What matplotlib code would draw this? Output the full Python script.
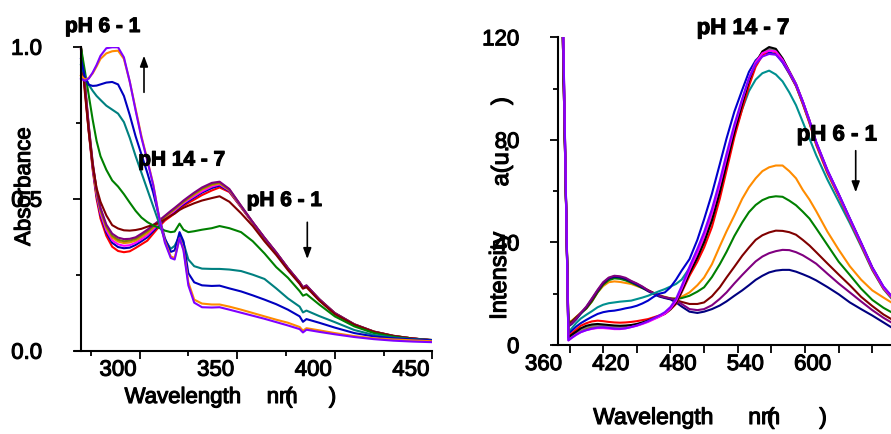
import matplotlib
matplotlib.use('Agg')
import matplotlib.pyplot as plt
import matplotlib.patheffects as pe
from matplotlib.transforms import ScaledTranslation

# ---- absorbance spectra (left) ----
abs_nm = [270, 272, 274, 276, 278, 280, 283, 286, 289, 292, 295, 298, 301, 304, 307,
          310, 313, 316, 318, 320.5, 322.5, 325, 328, 332, 337, 341, 346, 352, 358, 364,
          370, 376, 382, 383.7, 385.5, 392, 400, 410, 420, 430, 440, 450]

# pH 14 - 7
abs_red = [0.990, 0.860, 0.720, 0.595, 0.500, 0.435, 0.378, 0.342, 0.328, 0.324, 0.327, 0.338, 0.350, 0.362, 0.385,
           0.408, 0.428, 0.442, 0.452, 0.467, 0.476, 0.486, 0.497, 0.512, 0.527, 0.537, 0.522, 0.472, 0.420, 0.369,
           0.321, 0.270, 0.223, 0.206, 0.212, 0.168, 0.122, 0.085, 0.062, 0.048, 0.040, 0.034]
abs_blue = [0.993, 0.866, 0.726, 0.603, 0.509, 0.446, 0.389, 0.355, 0.341, 0.337, 0.339, 0.348, 0.360, 0.373, 0.393,
            0.414, 0.433, 0.447, 0.457, 0.472, 0.481, 0.492, 0.504, 0.520, 0.535, 0.543, 0.525, 0.473, 0.421, 0.370,
            0.322, 0.271, 0.224, 0.207, 0.213, 0.168, 0.123, 0.086, 0.062, 0.048, 0.040, 0.034]
abs_mag = [0.995, 0.870, 0.730, 0.608, 0.515, 0.452, 0.396, 0.363, 0.350, 0.345, 0.347, 0.355, 0.367, 0.380, 0.399,
           0.418, 0.436, 0.451, 0.461, 0.475, 0.485, 0.496, 0.508, 0.524, 0.540, 0.547, 0.527, 0.474, 0.421, 0.370,
           0.322, 0.271, 0.224, 0.207, 0.213, 0.169, 0.123, 0.086, 0.062, 0.048, 0.040, 0.034]
abs_gold = [0.997, 0.874, 0.734, 0.613, 0.521, 0.460, 0.404, 0.372, 0.359, 0.354, 0.356, 0.362, 0.374, 0.387, 0.405,
            0.422, 0.439, 0.455, 0.465, 0.478, 0.489, 0.500, 0.513, 0.530, 0.545, 0.550, 0.529, 0.475, 0.422, 0.371,
            0.323, 0.271, 0.225, 0.208, 0.214, 0.169, 0.123, 0.086, 0.063, 0.049, 0.040, 0.035]
abs_olive = [0.998, 0.877, 0.737, 0.616, 0.525, 0.465, 0.409, 0.378, 0.365, 0.360, 0.362, 0.368, 0.380, 0.393, 0.409,
             0.425, 0.442, 0.457, 0.467, 0.481, 0.491, 0.503, 0.517, 0.533, 0.548, 0.553, 0.530, 0.476, 0.422, 0.371,
             0.323, 0.272, 0.225, 0.208, 0.214, 0.170, 0.124, 0.087, 0.063, 0.049, 0.040, 0.035]
abs_purple = [0.999, 0.880, 0.740, 0.620, 0.530, 0.470, 0.415, 0.385, 0.372, 0.367, 0.368, 0.373, 0.385, 0.398, 0.413,
              0.428, 0.444, 0.460, 0.470, 0.483, 0.494, 0.506, 0.520, 0.537, 0.552, 0.556, 0.532, 0.477, 0.423, 0.372,
              0.324, 0.272, 0.226, 0.209, 0.215, 0.170, 0.124, 0.087, 0.063, 0.049, 0.040, 0.035]

# pH 6 - 1
abs_ph6 = [0.998, 0.850, 0.720, 0.610, 0.535, 0.490, 0.445, 0.413, 0.402, 0.396, 0.395, 0.397, 0.401, 0.408, 0.414,
           0.420, 0.432, 0.444, 0.451, 0.463, 0.470, 0.477, 0.485, 0.494, 0.502, 0.508, 0.490, 0.452, 0.410, 0.360,
           0.315, 0.265, 0.220, 0.204, 0.209, 0.165, 0.120, 0.085, 0.062, 0.048, 0.040, 0.034]
abs_ph5 = [0.998, 0.920, 0.840, 0.760, 0.690, 0.640, 0.595, 0.560, 0.540, 0.515, 0.487, 0.460, 0.438, 0.423, 0.412,
           0.404, 0.395, 0.390, 0.392, 0.418, 0.398, 0.390, 0.393, 0.398, 0.403, 0.410, 0.403, 0.390, 0.360, 0.320,
           0.275, 0.240, 0.196, 0.181, 0.186, 0.152, 0.113, 0.080, 0.058, 0.046, 0.038, 0.033]
abs_ph4 = [0.940, 0.905, 0.875, 0.855, 0.838, 0.825, 0.806, 0.793, 0.780, 0.752, 0.700, 0.640, 0.585, 0.530, 0.475,
           0.420, 0.365, 0.335, 0.345, 0.378, 0.355, 0.300, 0.278, 0.270, 0.269, 0.269, 0.267, 0.262, 0.250, 0.236,
           0.205, 0.172, 0.145, 0.126, 0.132, 0.114, 0.094, 0.068, 0.052, 0.043, 0.038, 0.035]
abs_ph3 = [0.960, 0.900, 0.875, 0.871, 0.872, 0.876, 0.882, 0.884, 0.876, 0.838, 0.775, 0.705, 0.645, 0.585, 0.520,
           0.440, 0.370, 0.325, 0.330, 0.390, 0.360, 0.255, 0.225, 0.215, 0.213, 0.214, 0.205, 0.195, 0.182, 0.168,
           0.153, 0.135, 0.113, 0.095, 0.104, 0.092, 0.076, 0.058, 0.047, 0.041, 0.037, 0.034]
abs_ph2 = [0.905, 0.892, 0.897, 0.912, 0.935, 0.960, 0.978, 0.985, 0.987, 0.960, 0.885, 0.795, 0.705, 0.628, 0.548,
           0.440, 0.360, 0.310, 0.305, 0.370, 0.335, 0.225, 0.168, 0.155, 0.152, 0.152, 0.145, 0.135, 0.124, 0.113,
           0.102, 0.092, 0.078, 0.066, 0.074, 0.067, 0.058, 0.048, 0.041, 0.037, 0.034, 0.031]
abs_ph1 = [0.895, 0.888, 0.895, 0.915, 0.940, 0.970, 0.995, 0.998, 0.998, 0.965, 0.885, 0.790, 0.700, 0.625, 0.545,
           0.440, 0.355, 0.305, 0.300, 0.370, 0.330, 0.215, 0.158, 0.143, 0.142, 0.143, 0.135, 0.125, 0.115, 0.105,
           0.094, 0.083, 0.071, 0.060, 0.069, 0.062, 0.054, 0.045, 0.038, 0.033, 0.030, 0.028]

# ---- fluorescence spectra (right) ----
fl_nm = [350, 354, 359, 362, 366, 370, 375, 380, 385, 390, 395, 400, 405, 410, 415, 420, 425, 430, 435, 440,
         445, 450, 455, 460, 467, 474, 480, 487, 494, 500, 507, 514, 520, 526, 532, 538, 544, 550, 556, 562,
         568, 574, 580, 590, 600, 610, 620, 630, 640, 647]

# pH 14 - 7
fl_black = [165, 128, 3.0, 4.0, 5.2, 6.5, 7.5, 8.0, 8.2, 8.0, 7.8, 7.6, 7.5, 7.6, 7.8, 8.2, 8.8, 9.5, 10.4, 11.3,
            12.3, 14.0, 16.5, 21.0, 28.0, 34.0, 40.0, 48.5, 59.5, 70.5, 83.0, 94.0, 103.0, 110.0, 114.5, 116.2, 115.5, 111.8, 106.8, 101.8,
            95.0, 87.5, 79.0, 68.0, 58.8, 49.2, 39.8, 30.2, 22.6, 19.0]
fl_gray = [170, 130, 2.5, 3.5, 4.8, 6.0, 7.0, 7.5, 7.6, 7.4, 7.2, 7.0, 7.0, 7.2, 7.5, 8.0, 8.6, 9.4, 10.3, 11.2,
           12.2, 14.0, 16.6, 21.2, 28.3, 34.5, 40.8, 49.5, 60.5, 71.5, 84.0, 94.8, 103.5, 110.2, 114.3, 115.6, 115.0, 111.4, 106.5, 101.5,
           94.7, 87.2, 78.7, 67.8, 58.6, 49.0, 39.6, 30.0, 22.4, 18.8]
fl_olive = [170, 130, 2.2, 3.2, 4.5, 5.6, 6.4, 6.9, 7.0, 6.9, 6.7, 6.6, 6.6, 6.8, 7.2, 7.7, 8.4, 9.2, 10.2, 11.1,
            12.2, 14.0, 16.8, 21.5, 28.6, 35.0, 41.3, 50.0, 61.0, 72.0, 84.3, 95.0, 103.6, 110.0, 114.0, 115.2, 114.6, 111.0, 106.2, 101.3,
            94.5, 87.0, 78.6, 67.7, 58.5, 48.9, 39.5, 29.9, 22.3, 18.7]
fl_red = [160, 125, 3.6, 4.5, 6.0, 7.5, 8.5, 9.2, 9.5, 9.3, 9.0, 8.8, 8.7, 8.8, 9.0, 9.3, 9.7, 10.1, 10.8, 11.5,
          12.1, 13.8, 16.0, 20.5, 27.0, 32.5, 38.0, 46.0, 57.0, 68.0, 81.0, 92.0, 101.0, 108.5, 113.0, 115.0, 114.2, 110.8, 106.0, 101.0,
          94.0, 86.5, 78.0, 67.0, 58.0, 48.5, 39.0, 29.5, 22.0, 18.5]
fl_magenta = [175, 132, 1.8, 2.8, 4.0, 5.0, 5.8, 6.3, 6.6, 6.6, 6.4, 6.2, 6.2, 6.5, 7.0, 7.5, 8.2, 9.0, 10.0, 11.0,
              12.2, 14.2, 17.2, 22.0, 29.3, 36.0, 42.5, 51.5, 62.5, 73.0, 85.0, 95.5, 104.0, 110.2, 113.8, 114.8, 114.5, 111.2, 106.6, 101.7,
              95.0, 87.5, 79.0, 68.0, 58.7, 49.0, 39.6, 30.0, 22.4, 18.9]
fl_violet = [175, 132, 1.8, 2.8, 4.0, 5.0, 5.8, 6.4, 6.8, 6.9, 6.7, 6.4, 6.3, 6.5, 7.0, 7.6, 8.4, 9.3, 10.4, 11.5,
             12.8, 14.8, 18.0, 23.0, 30.5, 37.5, 44.0, 53.0, 64.0, 74.5, 86.0, 96.0, 104.0, 109.5, 112.5, 113.5, 113.2, 110.5, 106.3, 101.5,
             95.0, 87.6, 79.2, 68.3, 59.0, 49.4, 40.0, 30.3, 22.8, 19.2]
fl_blue = [165, 128, 4.2, 5.5, 7.2, 8.5, 9.8, 11.0, 12.1, 12.8, 13.2, 13.4, 13.8, 14.3, 14.7, 15.3, 16.2, 17.3, 18.8, 20.0,
           20.5, 22.5, 25.5, 29.0, 33.5, 41.0, 49.0, 59.0, 70.5, 80.5, 91.0, 99.5, 106.5, 111.0, 113.5, 114.0, 113.5, 110.2, 105.8, 101.0,
           94.3, 87.0, 78.6, 67.8, 58.6, 49.0, 39.6, 30.0, 22.4, 18.8]
fl_teal = [160, 125, 4.9, 6.5, 8.6, 10.3, 11.8, 13.2, 14.7, 15.7, 16.3, 16.6, 16.9, 17.1, 17.3, 17.9, 18.5, 19.2, 20.1, 21.0,
           21.8, 22.8, 23.8, 25.5, 30.0, 36.5, 43.0, 52.0, 62.5, 72.0, 82.5, 92.0, 99.0, 103.5, 106.0, 107.0, 105.5, 102.8, 98.5, 93.5,
           87.0, 80.5, 74.0, 64.5, 56.0, 47.5, 38.5, 29.2, 21.8, 18.2]

# pH 6 - 1
fl_orange = [150, 120, 9.0, 9.5, 11.0, 12.5, 14.3, 17.0, 20.5, 23.0, 24.5, 24.8, 24.6, 24.2, 23.8, 23.0, 22.2, 21.2, 20.3, 19.4,
             18.8, 18.2, 18.2, 18.8, 20.5, 23.3, 26.3, 31.5, 38.5, 44.3, 50.5, 57.0, 61.5, 65.0, 67.8, 69.3, 70.0, 70.0, 67.8, 65.0,
             60.5, 56.7, 52.2, 44.2, 37.2, 30.7, 25.5, 21.3, 18.5, 16.6]
fl_green = [150, 120, 8.5, 9.2, 10.8, 12.3, 14.2, 17.0, 20.5, 23.5, 25.3, 26.0, 25.8, 25.2, 24.3, 23.3, 22.2, 21.2, 20.2, 19.3,
            18.6, 18.1, 18.0, 18.3, 19.2, 20.8, 22.5, 26.5, 31.5, 36.3, 42.5, 47.8, 51.8, 54.6, 56.5, 57.6, 58.0, 57.8, 56.3, 54.5,
            52.0, 49.3, 45.5, 39.0, 32.5, 27.3, 22.0, 17.6, 14.5, 12.8]
fl_maroon = [150, 120, 8.0, 9.0, 10.8, 12.5, 14.5, 17.5, 21.0, 24.0, 26.0, 26.8, 26.5, 25.8, 24.8, 23.8, 22.6, 21.4, 20.3, 19.2,
             18.5, 18.0, 17.5, 16.8, 16.0, 16.0, 16.6, 19.0, 22.5, 26.3, 30.5, 34.8, 38.0, 41.0, 42.8, 43.9, 44.6, 44.5, 44.0, 43.0,
             41.0, 38.8, 36.2, 31.8, 27.5, 23.3, 18.8, 15.2, 11.9, 10.1]
fl_purple = [150, 120, 7.5, 8.5, 10.3, 12.5, 15.0, 18.2, 21.5, 24.5, 26.3, 27.0, 26.8, 26.2, 25.0, 24.0, 22.8, 21.3, 20.2, 19.2,
             18.6, 18.2, 17.3, 16.0, 14.0, 13.6, 14.0, 15.5, 18.0, 20.5, 24.0, 27.3, 30.0, 32.6, 34.5, 35.8, 36.6, 37.1, 37.0, 36.2,
             35.0, 33.4, 31.7, 27.8, 24.0, 20.5, 17.0, 13.6, 10.6, 8.8]
fl_navy = [150, 120, 7.2, 8.2, 10.0, 12.2, 14.8, 18.0, 21.2, 24.2, 26.0, 26.6, 26.4, 25.8, 24.7, 23.6, 22.4, 21.0, 19.9, 18.9,
           18.3, 17.8, 16.6, 15.0, 13.0, 12.5, 13.0, 14.0, 15.4, 17.0, 19.2, 21.3, 23.3, 25.4, 27.0, 28.3, 29.0, 29.3, 29.3, 28.6,
           27.6, 26.5, 25.2, 22.6, 19.8, 16.6, 14.0, 11.5, 8.8, 6.9]

abs_ticks = [300, 350, 400, 450]
abs_minor = [275, 325, 375, 425]
fl_ticks = [360, 390, 420, 450, 480, 510, 540, 570, 600, 630]
fl_labels = ['360', '', '420', '', '480', '', '540', '', '600', '']

plt.rcParams['font.family'] = ['Liberation Sans', 'DejaVu Sans']
W, H = 891, 435
fig = plt.figure(figsize=(W / 100, H / 100), dpi=100)

# slightly heavier strokes on the lettering
heavy = [pe.withStroke(linewidth=0.8, foreground='black')]


def fig_text(x, y, s, **kw):
    # x, y in pixels from the top-left corner
    fig.text(x / W, 1 - y / H, s, path_effects=heavy, **kw)


def down_arrow(ax, x, y_tail, y_tip):
    ax.annotate('', xy=(x, H - y_tip), xytext=(x, H - y_tail),
                xycoords='figure pixels', textcoords='figure pixels',
                annotation_clip=False,
                arrowprops=dict(arrowstyle='-|>,head_length=0.8,head_width=0.3',
                                mutation_scale=8, lw=1.2, color='black',
                                shrinkA=0, shrinkB=0))


def style_axis(ax, x_shift):
    for side in ['top', 'right']:
        ax.spines[side].set_visible(False)
    for side in ['left', 'bottom']:
        ax.spines[side].set_linewidth(1.5)
    ax.tick_params(which='major', length=6, width=1.3, labelsize=16, direction='out')
    ax.tick_params(which='minor', length=3.5, width=1.3, direction='out')
    ax.tick_params(axis='y', which='major', pad=22)
    ax.tick_params(axis='x', which='major', pad=0.5)
    # tick numbers sit to the left of their ticks
    off = ScaledTranslation(x_shift / 100, 0, fig.dpi_scale_trans)
    for lab in ax.get_xticklabels():
        lab.set_transform(lab.get_transform() + off)
        lab.set_path_effects(heavy)
    for lab in ax.get_yticklabels():
        lab.set_path_effects(heavy)


# left panel: absorbance
ax1 = fig.add_axes([75.1 / W, 1 - 351.7 / H, (432.4 - 75.1) / W, (351.7 - 47.7) / H])
lw = 1.5
for y, c in [(abs_red, '#ff0000'), (abs_blue, '#0000b0'), (abs_mag, '#ff00ff'),
             (abs_gold, '#e09000'), (abs_olive, '#808000'), (abs_purple, '#800080')]:
    ax1.plot(abs_nm, y, color=c, lw=lw)
for y, c in [(abs_ph6, '#800000'), (abs_ph5, '#008000'), (abs_ph4, '#008080'),
             (abs_ph3, '#0000c0'), (abs_ph2, '#ff8c00'), (abs_ph1, '#8000ff')]:
    ax1.plot(abs_nm, y, color=c, lw=lw)
ax1.set_xlim(267, 450)
ax1.set_ylim(0, 1.0)
ax1.spines['left'].set_position(('data', 270))
ax1.set_xticks(abs_ticks)
ax1.set_xticks(abs_minor, minor=True)
ax1.set_yticks([0, 0.5, 1.0])
ax1.set_yticklabels(['0.0', '0.5', '1.0'])
ax1.set_yticks([0.25, 0.75], minor=True)
style_axis(ax1, -21.5)

# right panel: emission
ax2 = fig.add_axes([552.7 / W, 1 - 346 / H, (891 - 552.7) / W, (346 - 38.3) / H])
for y, c in [(fl_orange, '#ff8c00'), (fl_green, '#008000'), (fl_maroon, '#800000'),
             (fl_navy, '#000080'), (fl_purple, '#800080')]:
    ax2.plot(fl_nm, y, color=c, lw=lw)
for y, c in [(fl_teal, '#009090'), (fl_blue, '#0000cd'), (fl_red, '#ff0000'), (fl_olive, '#808000'),
             (fl_gray, '#808080'), (fl_black, '#000000'), (fl_magenta, '#ff00ff'), (fl_violet, '#8000ff')]:
    ax2.plot(fl_nm, y, color=c, lw=lw)
ax2.set_xlim(345, 646.7)
ax2.set_ylim(0, 120)
ax2.spines['left'].set_position(('data', 350))
ax2.set_xticks(fl_ticks)
ax2.set_xticklabels(fl_labels)
ax2.set_yticks([0, 40, 80, 120])
ax2.set_yticks([20, 60, 100], minor=True)
style_axis(ax2, -26)

# axis titles
fig_text(30, 187.5, 'Absorbance', fontsize=16, rotation=90, rotation_mode='anchor',
         ha='center', va='baseline')
fig_text(183, 404, 'Wavelength', fontsize=16, ha='center', va='baseline')
fig_text(266.7, 404, 'nm', fontsize=16, ha='left', va='baseline')
fig_text(289, 404, '(', fontsize=16, ha='center', va='baseline')
fig_text(332.5, 404, ')', fontsize=16, ha='center', va='baseline')

fig_text(506, 276.7, 'Intensity', fontsize=17, rotation=90, rotation_mode='anchor',
         ha='center', va='baseline')
fig_text(508, 167, 'a(u.', fontsize=17, rotation=90, rotation_mode='anchor',
         ha='center', va='baseline')
fig_text(508, 102, ')', fontsize=17, rotation=90, rotation_mode='anchor',
         ha='center', va='baseline')
fig_text(653.3, 425, 'Wavelength', fontsize=16.5, ha='center', va='baseline')
fig_text(748.3, 425, 'nm', fontsize=16.5, ha='left', va='baseline')
fig_text(770.7, 425, '(', fontsize=16.5, ha='center', va='baseline')
fig_text(823, 425, ')', fontsize=16.5, ha='center', va='baseline')

# pH annotations
fig_text(65, 33, 'pH 6 - 1', fontsize=15, fontweight='bold', ha='left', va='baseline')
fig_text(138.3, 166.5, 'pH 14 - 7', fontsize=15, fontweight='bold', ha='left', va='baseline')
fig_text(246.7, 207, 'pH 6 - 1', fontsize=15, fontweight='bold', ha='left', va='baseline')
fig_text(696.7, 35, 'pH 14 - 7', fontsize=16, fontweight='bold', ha='left', va='baseline')
fig_text(796.7, 141.5, 'pH 6 - 1', fontsize=16, fontweight='bold', ha='left', va='baseline')

down_arrow(ax1, 144, 93.3, 56.7)
down_arrow(ax1, 307.3, 223.3, 260)
down_arrow(ax2, 855.7, 151.7, 193.3)

fig.savefig('out.png', dpi=100)
